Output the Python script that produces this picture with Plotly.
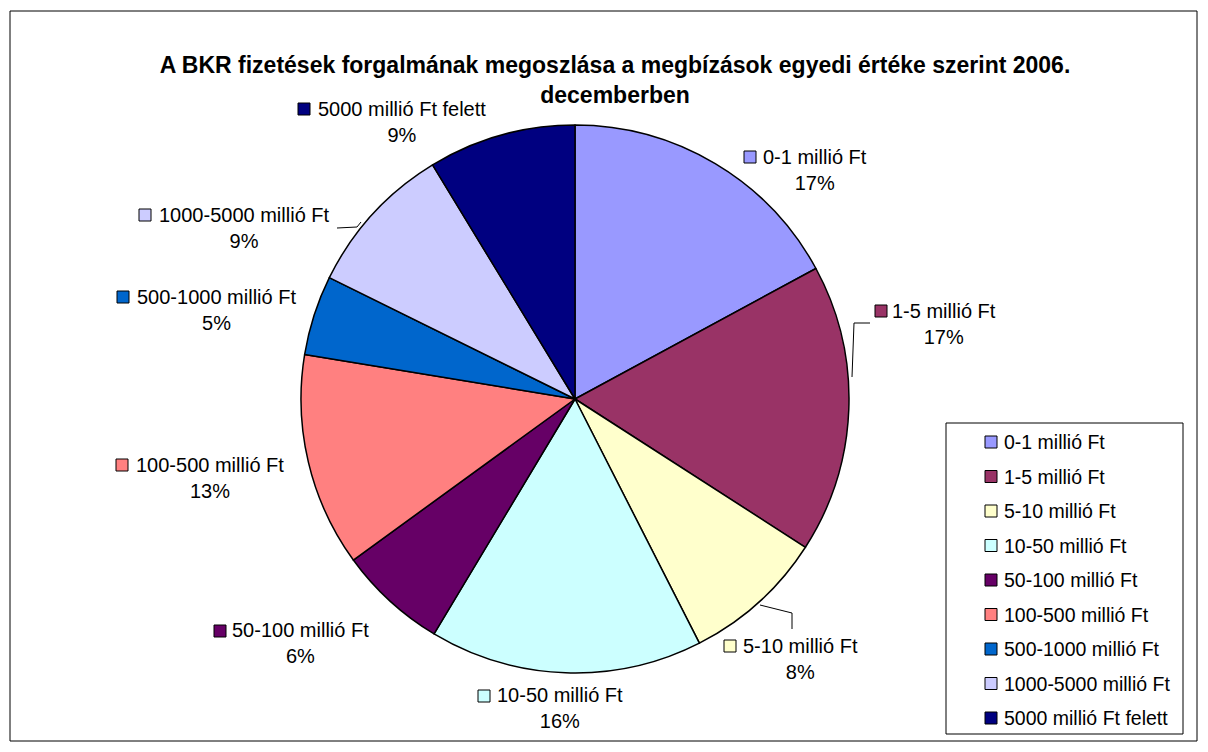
import plotly.graph_objects as go

W, H = 1208, 752

categories = ["0-1 millió Ft", "1-5 millió Ft", "5-10 millió Ft", "10-50 millió Ft",
              "50-100 millió Ft", "100-500 millió Ft", "500-1000 millió Ft",
              "1000-5000 millió Ft", "5000 millió Ft felett"]
shares = [17.1, 17.0, 8.4, 16.1, 6.4, 12.6, 4.7, 9.0, 8.7]
colors = ["#9999FF", "#993366", "#FFFFCC", "#CCFFFF", "#660066",
          "#FF8080", "#0066CC", "#CCCCFF", "#000080"]
title_text = ("A BKR fizetések forgalmának megoszlása a megbízások egyedi értéke szerint 2006."
              "<br>decemberben")

# label layout (pixels): name-centre x, block-centre y, square left x, square centre y
label_pos = [(815, 170, 744, 157), (944, 324, 875, 311), (800, 659, 724, 646),
             (560, 708, 478, 696), (300, 643, 214, 631), (210, 478, 116, 465),
             (216, 310, 117, 297), (244, 228, 139, 215), (402, 122, 298, 109)]
leader_paths = [[(852, 377), (854, 323), (870, 323)],
                [(760, 605), (792, 613), (792, 629)],
                [(361, 222), (357, 227), (337, 228)]]

# manual legend layout (pixels)
legend_box = (946, 423, 1183, 734)
legend_first_y, legend_step = 442, 34.5
legend_sq_x, legend_text_x = 985, 1002

FONT = "Liberation Sans, Arial, sans-serif"


def px(x):
    return x / W


def py(y):
    return 1 - y / H


fig = go.Figure()
fig.add_trace(go.Pie(
    labels=categories, values=shares, sort=False, direction="clockwise", rotation=0,
    marker=dict(colors=colors, line=dict(color="black", width=1.5)),
    textinfo="none", hoverinfo="label+percent", showlegend=False,
    domain=dict(x=[px(301), px(849)], y=[py(673), py(125)]),
))

total = sum(shares)
annotations = []
shapes = []
for (cx, cy, sx, sy), name, val, col in zip(label_pos, categories, shares, colors):
    pct = round(val / total * 100)
    annotations.append(dict(x=px(cx), y=py(cy), xref="paper", yref="paper",
                            text=f"{name}<br>{pct}%", showarrow=False,
                            xanchor="center", yanchor="middle", align="center",
                            font=dict(family=FONT, size=20, color="black")))
    shapes.append(dict(type="rect", xref="paper", yref="paper",
                       x0=px(sx), x1=px(sx + 12), y0=py(sy + 6), y1=py(sy - 6),
                       fillcolor=col, line=dict(color="black", width=1)))

for pts in leader_paths:
    path = "M " + " L ".join(f"{px(x)},{py(y)}" for x, y in pts)
    shapes.append(dict(type="path", xref="paper", yref="paper", path=path,
                       line=dict(color="black", width=1)))

# legend box and entries
lx0, ly0, lx1, ly1 = legend_box
shapes.append(dict(type="rect", xref="paper", yref="paper",
                   x0=px(lx0), x1=px(lx1), y0=py(ly1), y1=py(ly0),
                   line=dict(color="black", width=1), fillcolor="white", layer="below"))
for i, (name, col) in enumerate(zip(categories, colors)):
    yc = legend_first_y + i * legend_step
    shapes.append(dict(type="rect", xref="paper", yref="paper",
                       x0=px(legend_sq_x), x1=px(legend_sq_x + 12),
                       y0=py(yc + 6), y1=py(yc - 6),
                       fillcolor=col, line=dict(color="black", width=1)))
    annotations.append(dict(x=px(legend_text_x), y=py(yc), xref="paper", yref="paper",
                            text=name, showarrow=False, xanchor="left", yanchor="middle",
                            font=dict(family=FONT, size=19.5, color="black")))

# outer chart border
shapes.append(dict(type="rect", xref="paper", yref="paper",
                   x0=px(10), x1=px(1197), y0=py(741), y1=py(11),
                   line=dict(color="black", width=1), fillcolor="rgba(0,0,0,0)"))

fig.update_layout(
    width=W, height=H,
    margin=dict(l=0, r=0, t=0, b=0),
    paper_bgcolor="white", plot_bgcolor="white",
    font=dict(family=FONT, size=20, color="black"),
    title=dict(text=f"<b>{title_text}</b>", x=px(615), xanchor="center",
               y=py(73), yanchor="middle",
               font=dict(family=FONT, size=23, color="black")),
    showlegend=False,
    annotations=annotations,
    shapes=shapes,
)

fig.write_html("out.html", config={"displayModeBar": False},
               post_script="document.body.style.margin='0';document.body.style.overflow='hidden';")
